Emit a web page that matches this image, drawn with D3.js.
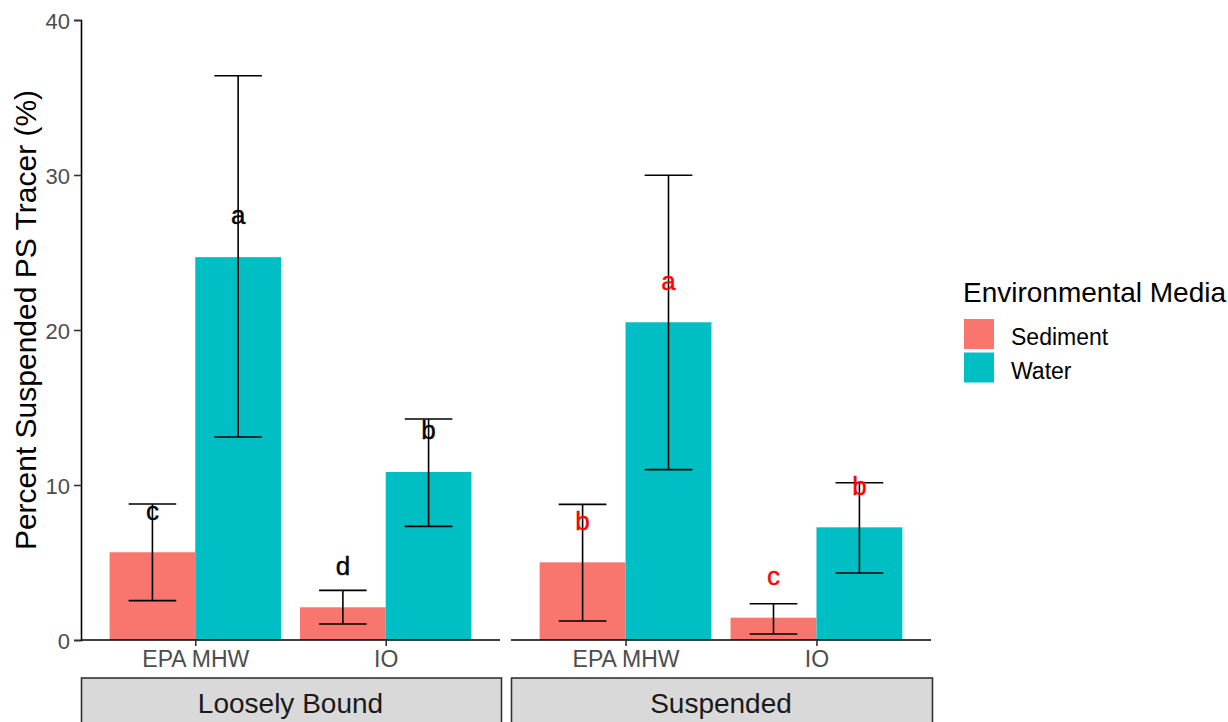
<!DOCTYPE html>
<html>
<head>
<meta charset="utf-8">
<script src="https://cdn.jsdelivr.net/npm/d3@7"></script>
<style>
  html, body { margin: 0; padding: 0; background: #fff; }
  svg { display: block; font-family: "Liberation Sans", Arial, sans-serif; }
</style>
</head>
<body>
<svg id="chart" width="1228" height="722"></svg>
<script>
// Facets, sites and media
const facets = ["Loosely Bound", "Suspended"];
const sites = ["EPA MHW", "IO"];
const media = ["Sediment", "Water"];
const yTicks = [0, 10, 20, 30, 40];

// Mean percent suspended tracer, one array per facet, ordered site x medium
const looselyMean  = [5.66, 24.7, 2.11, 10.84];
const looselyLow   = [2.54, 13.1, 1.03, 7.33];
const looselyHigh  = [8.77, 36.4, 3.2, 14.26];
const looselyLetter = ["c", "a", "d", "b"];

const suspendedMean = [5.01, 20.5, 1.44, 7.27];
const suspendedLow  = [1.23, 10.99, 0.39, 4.32];
const suspendedHigh = [8.75, 29.98, 2.34, 10.15];
const suspendedLetter = ["b", "a", "c", "b"];

const facetData = [
  { name: facets[0], mean: looselyMean, low: looselyLow, high: looselyHigh, letters: looselyLetter, letterColor: "#000000" },
  { name: facets[1], mean: suspendedMean, low: suspendedLow, high: suspendedHigh, letters: suspendedLetter, letterColor: "#FF0000" }
];

const colors = { Sediment: "#F8766D", Water: "#00BFC4" };

const svg = d3.select("#chart");
const panelTop = 20, panelBottom = 640;
const panels = [[81, 500], [511, 931]];

const y = d3.scaleLinear().domain([0, 40]).range([panelBottom, panelTop]);

// y axis
const yAxis = svg.append("g").attr("transform", `translate(${panels[0][0]},0)`)
  .call(d3.axisLeft(y).tickValues(yTicks).tickSize(7).tickPadding(4));
yAxis.select(".domain").attr("stroke", "#000").attr("stroke-width", 1.6);
yAxis.selectAll(".tick line").attr("stroke", "#333").attr("stroke-width", 1.6);
yAxis.selectAll(".tick text").attr("fill", "#4D4D4D").attr("font-size", 22)
  .attr("font-family", "Liberation Sans, Arial, sans-serif").attr("dy", "0.38em");

svg.append("text")
  .attr("transform", `translate(36,320) rotate(-90)`)
  .attr("text-anchor", "middle").attr("font-size", 30).attr("fill", "#000")
  .text("Percent Suspended PS Tracer (%)");

facetData.forEach((f, pi) => {
  const [x0, x1] = panels[pi];
  // discrete axis with ggplot-style expansion: centres at 0.6 and 1.6 units out of 2.2
  const unit = (x1 - x0) / 2.2;
  const centre = d3.scalePoint().domain(sites).range([x0 + 0.6 * unit, x0 + 1.6 * unit]);
  const xm = d3.scaleBand().domain(media).range([-0.45 * unit, 0.45 * unit]).padding(0);

  const g = svg.append("g");
  const rows = [];
  sites.forEach((s, si) => media.forEach((m, mi) => {
    const k = si * 2 + mi;
    rows.push({ site: s, medium: m, mean: f.mean[k], low: f.low[k], high: f.high[k], letter: f.letters[k] });
  }));

  g.selectAll("rect.bar").data(rows).join("rect")
    .attr("class", "bar")
    .attr("x", d => centre(d.site) + xm(d.medium))
    .attr("width", xm.bandwidth())
    .attr("y", d => y(d.mean))
    .attr("height", d => y(0) - y(d.mean))
    .attr("fill", d => colors[d.medium]);

  const cx = d => centre(d.site) + xm(d.medium) + xm.bandwidth() / 2;
  const capHalf = 0.125 * unit;
  const eb = g.selectAll("g.eb").data(rows).join("g").attr("class", "eb")
    .attr("stroke", "#000").attr("stroke-width", 1.6);
  eb.append("line").attr("x1", cx).attr("x2", cx).attr("y1", d => y(d.low)).attr("y2", d => y(d.high));
  eb.append("line").attr("x1", d => cx(d) - capHalf).attr("x2", d => cx(d) + capHalf)
    .attr("y1", d => y(d.high)).attr("y2", d => y(d.high));
  eb.append("line").attr("x1", d => cx(d) - capHalf).attr("x2", d => cx(d) + capHalf)
    .attr("y1", d => y(d.low)).attr("y2", d => y(d.low));

  g.selectAll("text.letter").data(rows).join("text").attr("class", "letter")
    .attr("x", cx).attr("y", d => y(d.mean + 2.7)).attr("dy", "0.35em")
    .attr("text-anchor", "middle").attr("font-size", 26).attr("fill", f.letterColor)
    .attr("stroke", f.letterColor).attr("stroke-width", 0.4)
    .text(d => d.letter);

  // x axis
  const xa = svg.append("g").attr("transform", `translate(0,${panelBottom})`)
    .call(d3.axisBottom(centre).tickSize(6).tickPadding(5).tickSizeOuter(0));
  xa.select(".domain").attr("stroke", "#000").attr("stroke-width", 1.6)
    .attr("d", `M${x0},0H${x1}`);
  xa.selectAll(".tick line").attr("stroke", "#333").attr("stroke-width", 1.6);
  xa.selectAll(".tick text").attr("fill", "#4D4D4D").attr("font-size", 23)
    .attr("font-family", "Liberation Sans, Arial, sans-serif").attr("dy", "0.71em");

  // strip
  svg.append("rect").attr("x", x0 + 0.5).attr("y", 678).attr("width", x1 - x0 + 1).attr("height", 60)
    .attr("fill", "#D9D9D9").attr("stroke", "#333").attr("stroke-width", 1.6);
  svg.append("text").attr("x", (x0 + x1) / 2).attr("y", 713).attr("text-anchor", "middle")
    .attr("font-size", 28).attr("fill", "#1A1A1A").text(f.name);
});

// legend
const lg = svg.append("g");
lg.append("text").attr("x", 963).attr("y", 302).attr("font-size", 28).attr("fill", "#000")
  .text("Environmental Media");
media.forEach((m, i) => {
  lg.append("rect").attr("x", 964).attr("y", 319 + i * 33.5).attr("width", 30).attr("height", 30)
    .attr("fill", colors[m]);
  lg.append("text").attr("x", 1011).attr("y", 345 + i * 33.5).attr("font-size", 23).attr("fill", "#000")
    .text(m);
});
</script>
</body>
</html>
